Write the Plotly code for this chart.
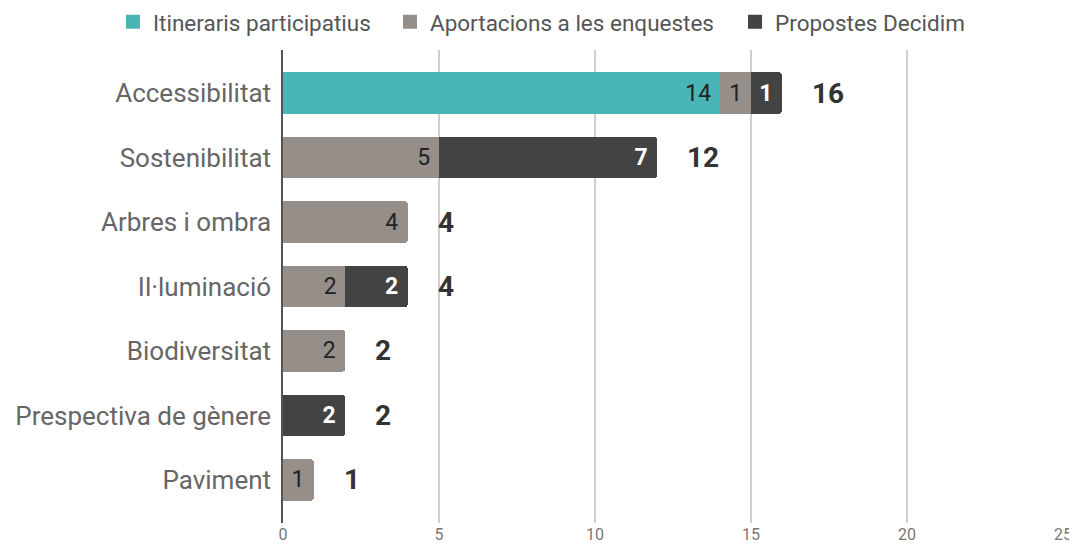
import plotly.graph_objects as go

categories = ["Accessibilitat", "Sostenibilitat", "Arbres i ombra", "Il·luminació",
              "Biodiversitat", "Prespectiva de gènere", "Paviment"]
itineraris = [14, 0, 0, 0, 0, 0, 0]
aportacions = [1, 5, 4, 2, 2, 0, 1]
propostes = [1, 7, 0, 2, 0, 2, 0]
totals = [a + b + c for a, b, c in zip(itineraris, aportacions, propostes)]
x_ticks = [0, 5, 10, 15, 20, 25]

series = [
    ("Itineraris participatius", itineraris, "#4AB5B7", dict(color="#222222", size=23, family="Roboto"), "legend", 0.0982),
    ("Aportacions a les enquestes", aportacions, "#958E89", dict(color="#222222", size=23, family="Roboto"), "legend2", 0.3573),
    ("Propostes Decidim", propostes, "#434343", dict(color="#FFFFFF", size=23, family="Roboto", weight="bold"), "legend3", 0.6801),
]

NB = "\u00a0"
fig = go.Figure()
legends = {}
for name, vals, color, tfont, lg, lx in series:
    fig.add_trace(go.Bar(
        y=categories, x=[v if v else None for v in vals], name=name, orientation="h",
        marker=dict(color=color, line=dict(width=0)),
        text=[str(v) + NB if v else "" for v in vals],
        textposition="inside", insidetextanchor="end", constraintext="none",
        textangle=0, textfont=tfont, cliponaxis=False, hoverinfo="skip",
        showlegend=False,
    ))
    # legend swatch (no data drawn)
    fig.add_trace(go.Scatter(
        x=[None], y=[None], mode="markers", name=name, legend=lg,
        marker=dict(symbol="square", size=14, color=color), hoverinfo="skip",
    ))
    legends[lg] = dict(orientation="h", x=lx, xanchor="left", xref="container",
                       y=0.974, yanchor="middle", yref="container",
                       font=dict(size=22.5, color="#555555", family="Roboto"),
                       bgcolor="rgba(0,0,0,0)", itemsizing="trace")

for cat, t in zip(categories, totals):
    fig.add_annotation(x=t, y=cat, text=f"<b>{t}</b>", showarrow=False,
                       xanchor="left", xshift=28,
                       font=dict(size=28, color="#333333", family="Roboto"))

fig.update_layout(
    barmode="stack", bargap=0.35, barcornerradius=4,
    width=1069, height=546,
    margin=dict(l=275, r=14, t=42, b=31, autoexpand=False),
    paper_bgcolor="white", plot_bgcolor="white",
    font=dict(family="Roboto", color="#555555"),
    xaxis=dict(range=[0, 25], tickvals=x_ticks, showgrid=True, gridcolor="#D0D0D0",
               gridwidth=1.5, zeroline=False, showline=False, automargin=False,
               tickfont=dict(size=16, color="#777777"), ticks=""),
    yaxis=dict(categoryorder="array", categoryarray=categories,
               range=[6.667, -0.667], showgrid=False, zeroline=False,
               showline=True, linecolor="#555555", linewidth=1.5, automargin=False,
               tickfont=dict(size=26, color="#666666"), ticks="",
               ticklabelstandoff=5),
    showlegend=True,
    **legends,
)
fig.write_html("out.html")
